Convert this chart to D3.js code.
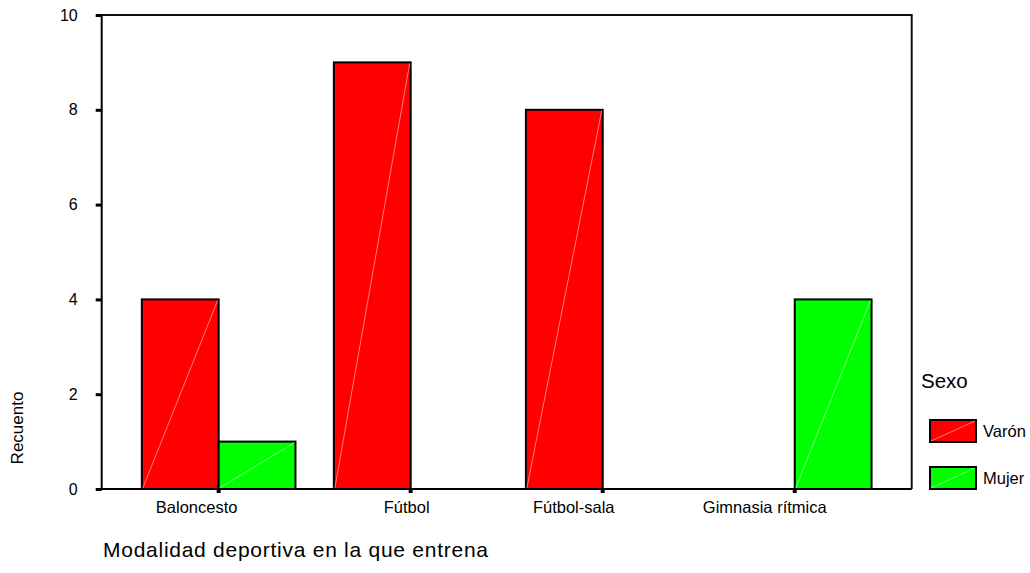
<!DOCTYPE html>
<html>
<head>
<meta charset="utf-8">
<script src="https://cdn.jsdelivr.net/npm/d3@7"></script>
<style>
  html, body { margin: 0; padding: 0; background: #fff; }
  svg { display: block; font-family: "Liberation Sans", Arial, sans-serif; }
</style>
</head>
<body>
<svg id="chart" width="1030" height="573"></svg>
<script>
const categories = ["Baloncesto", "Fútbol", "Fútbol-sala", "Gimnasia rítmica"];
const seriesNames = ["Varón", "Mujer"];
const varonValues = [4, 9, 8, 0];
const mujerValues = [1, 0, 0, 4];
const yTicks = [0, 2, 4, 6, 8, 10];
const colors = ["#ff0000", "#00ff00"];
const diagColors = ["#ff9a9a", "#9aff9a"];
const yTitle = "Recuento";
const xTitle = "Modalidad deportiva en la que entrena";
const legendTitle = "Sexo";

(function () {
const svg = d3.select("#chart");
const pLeft = 101.7, pRight = 911.7, pTop = 15, pBottom = 489;
// label nudges observed in the original rendering (px, layout only)
const labelNudge = [-22, -4, -29, -30];

const x = d3.scaleBand().domain(categories).range([pLeft, pRight]).paddingInner(0).paddingOuter(0.109);
const x1 = d3.scaleBand().domain(seriesNames).range([x.bandwidth() * 0.1, x.bandwidth() * 0.9]);
const y = d3.scaleLinear().domain([0, 10]).range([pBottom, pTop]);

const data = categories.map((c, i) => ({ cat: c, vals: [varonValues[i], mujerValues[i]] }));

// bars
const g = svg.append("g");
data.forEach(d => {
  d.vals.forEach((v, si) => {
    if (v <= 0) return;
    const x0 = x(d.cat) + x1(seriesNames[si]);
    const w = x1.bandwidth();
    g.append("rect")
      .attr("x", x0).attr("y", y(v))
      .attr("width", w).attr("height", y(0) - y(v))
      .attr("fill", colors[si]).attr("stroke", "#000").attr("stroke-width", 2);
    g.append("line")
      .attr("x1", x0 + 1).attr("y1", y(0) - 1)
      .attr("x2", x0 + w - 1).attr("y2", y(v) + 1)
      .attr("stroke", diagColors[si]).attr("stroke-width", 0.8);
  });
});

// frame
svg.append("path")
  .attr("d", `M${pLeft},${pTop}H${pRight}V${pBottom}`)
  .attr("fill", "none").attr("stroke", "#111").attr("stroke-width", 2);
svg.append("line").attr("x1", pLeft).attr("x2", pLeft).attr("y1", pTop - 1).attr("y2", pBottom + 1)
  .attr("stroke", "#000").attr("stroke-width", 2);
svg.append("line").attr("x1", pLeft - 1).attr("x2", pRight).attr("y1", pBottom).attr("y2", pBottom)
  .attr("stroke", "#000").attr("stroke-width", 2);

// y axis
const yAxis = d3.axisLeft(y).tickValues(yTicks).tickSize(6).tickPadding(18).tickFormat(d3.format("d"));
const ya = svg.append("g").attr("transform", `translate(${pLeft},0)`).call(yAxis);
ya.select(".domain").remove();
ya.selectAll(".tick line").attr("stroke", "#000").attr("stroke-width", 3);
ya.selectAll(".tick text").attr("font-size", 16).attr("fill", "#000")
  .attr("font-family", "Liberation Sans, Arial, sans-serif");

// x axis
const xAxis = d3.axisBottom(x).tickSize(4).tickPadding(8);
const xa = svg.append("g").attr("transform", `translate(0,${pBottom})`).call(xAxis);
xa.select(".domain").remove();
xa.selectAll(".tick line").attr("stroke", "#000").attr("stroke-width", 4);
xa.selectAll(".tick text").attr("font-size", 16.5).attr("fill", "#000")
  .attr("font-family", "Liberation Sans, Arial, sans-serif")
  .attr("dx", (d, i) => labelNudge[i]);

// titles
svg.append("text").attr("transform", "translate(23,428) rotate(-90)")
  .attr("text-anchor", "middle").attr("font-size", 17).text(yTitle);
svg.append("text").attr("x", 103).attr("y", 556.5)
  .attr("font-size", 21).attr("textLength", 385).attr("lengthAdjust", "spacing").text(xTitle);

// legend
svg.append("text").attr("x", 921).attr("y", 388).attr("font-size", 20.5).text(legendTitle);
const legY = [420, 467];
seriesNames.forEach((s, i) => {
  const lx = 930, ly = legY[i], lw = 46, lh = 22;
  svg.append("rect").attr("x", lx).attr("y", ly).attr("width", lw).attr("height", lh)
    .attr("fill", colors[i]).attr("stroke", "#000").attr("stroke-width", 2);
  svg.append("line").attr("x1", lx + 1).attr("y1", ly + lh - 1).attr("x2", lx + lw - 1).attr("y2", ly + 1)
    .attr("stroke", diagColors[i]).attr("stroke-width", 0.8);
  svg.append("text").attr("x", 983).attr("y", ly + lh / 2 + 6).attr("font-size", 16.5).text(s);
});
})();
</script>
</body>
</html>
